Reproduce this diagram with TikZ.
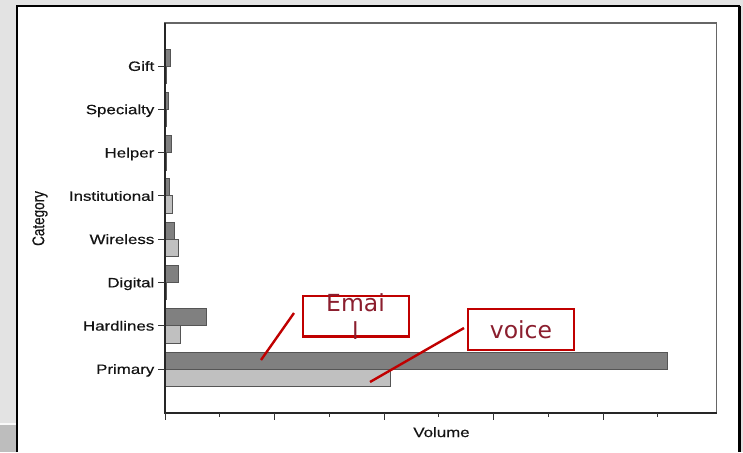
\documentclass[tikz,border=0pt]{standalone}
\usepackage{fontspec}
\setmainfont{Liberation Sans}
\newfontfamily\chartfont{Liberation Sans}[FakeBold=0.35]
\newfontfamily\annfont{DejaVu Sans}
\definecolor{bggray}{HTML}{E3E3E3}
\definecolor{bgdark}{HTML}{BDBDBD}
\definecolor{framegray}{HTML}{666666}
\definecolor{bardark}{HTML}{808080}
\definecolor{barlight}{HTML}{C0C0C0}
\definecolor{baredge}{HTML}{555555}
\definecolor{annred}{HTML}{C00000}
\definecolor{anntext}{HTML}{8B1E2E}
\newcommand{\hstretch}[1]{\scalebox{1.25}[1]{#1}}
\tikzset{
  ticklab/.style={anchor=base east, inner sep=0pt, text=black!92, font=\chartfont\fontsize{13.5}{16}\selectfont},
  darkbar/.style={fill=bardark, draw=baredge, line width=0.9pt},
  lightbar/.style={fill=barlight, draw=baredge, line width=0.9pt},
  annbox/.style={draw=annred, line width=2.4pt, fill=none, inner sep=0pt},
  anntxt/.style={anchor=base, inner sep=0pt, text=anntext, font=\annfont\fontsize{23.5}{28}\selectfont},
  annline/.style={draw=annred, line width=2.4pt},
  tickmark/.style={draw=black!80, line width=1pt},
  axtitle/.style={inner sep=0pt, text=black!92, font=\chartfont\fontsize{13.5}{16}\selectfont}
}
\begin{document}
\begin{tikzpicture}[x=1pt,y=-1pt]
\useasboundingbox (0,0) rectangle (743,452);
% background
\fill[bggray] (0,0) rectangle (743,452);
\fill[bgdark] (0,425) rectangle (17,452);
\fill[white!95!gray] (0,423) rectangle (17,425);
% white panel
\fill[white] (17,6) rectangle (739.5,452);
\draw[black, line width=2pt] (17,452) -- (17,6) -- (739.5,6);
\draw[black, line width=3pt] (739.5,6) -- (739.5,452);
% plot frame
\draw[framegray, line width=1.5pt] (165,23) rectangle (716.5,413);
% bars
\foreach \c/\d/\l in {66/170/166.5, 109.3/168.7/166.5, 152.6/171.7/166.5, 195.9/169.7/172.7, 239.1/174.3/178.7, 282.4/178.7/166.5, 325.7/206/180, 369/667/390.7}{
  \draw[darkbar] (165,\c-17) rectangle (\d,\c);
  \draw[lightbar] (165,\c) rectangle (\l,\c+17.5);
}
% axes
\draw[black!85, line width=1.6pt] (165,23) -- (165,413) -- (716.5,413);
% y ticks and labels
\foreach \c/\t/\n in {66/Gift/lgift, 109.3/Specialty/lspec, 152.6/Helper/lhelp, 195.9/Institutional/linst, 239.1/Wireless/lwire, 282.4/Digital/ldig, 325.7/Hardlines/lhard, 369/Primary/lprim}{
  \draw[tickmark] (158,\c) -- (165,\c);
  \node[ticklab] (\n) at (154.5,\c+4.9) {\hstretch{\t}};
}
% x ticks
\foreach \x in {165,274.5,384,493.5,603}{
  \draw[tickmark] (\x,413) -- (\x,419.5);
}
\foreach \x in {219.75,329.25,438.75,548.25,657.75}{
  \draw[tickmark] (\x,413) -- (\x,416.5);
}
% axis titles
\node[axtitle, anchor=base] (xtitle) at (441.5,437) {\hstretch{Volume}};
\node[axtitle, rotate=90] (ytitle) at (40,218.5) {\scalebox{1}[1.25]{Category}};
% annotations
\node[annbox, minimum width=106pt, minimum height=40.5pt] (emailbox) at (356,316.3) {};
\node[anntxt] (emailt1) at (355.5,311) {Emai};
\node[anntxt] (emailt2) at (355.5,339.5) {l};
\node[annbox, minimum width=106pt, minimum height=41pt] (voicebox) at (521,329.5) {};
\node[anntxt] (voicet) at (521,338.5) {voice};
\coordinate (emailfrom) at (294,313);
\coordinate (emailto) at (261,360);
\coordinate (voicefrom) at (464,328);
\coordinate (voiceto) at (370,382);
\draw[annline] (emailfrom) -- (emailto);
\draw[annline] (voicefrom) -- (voiceto);
\end{tikzpicture}
\end{document}
